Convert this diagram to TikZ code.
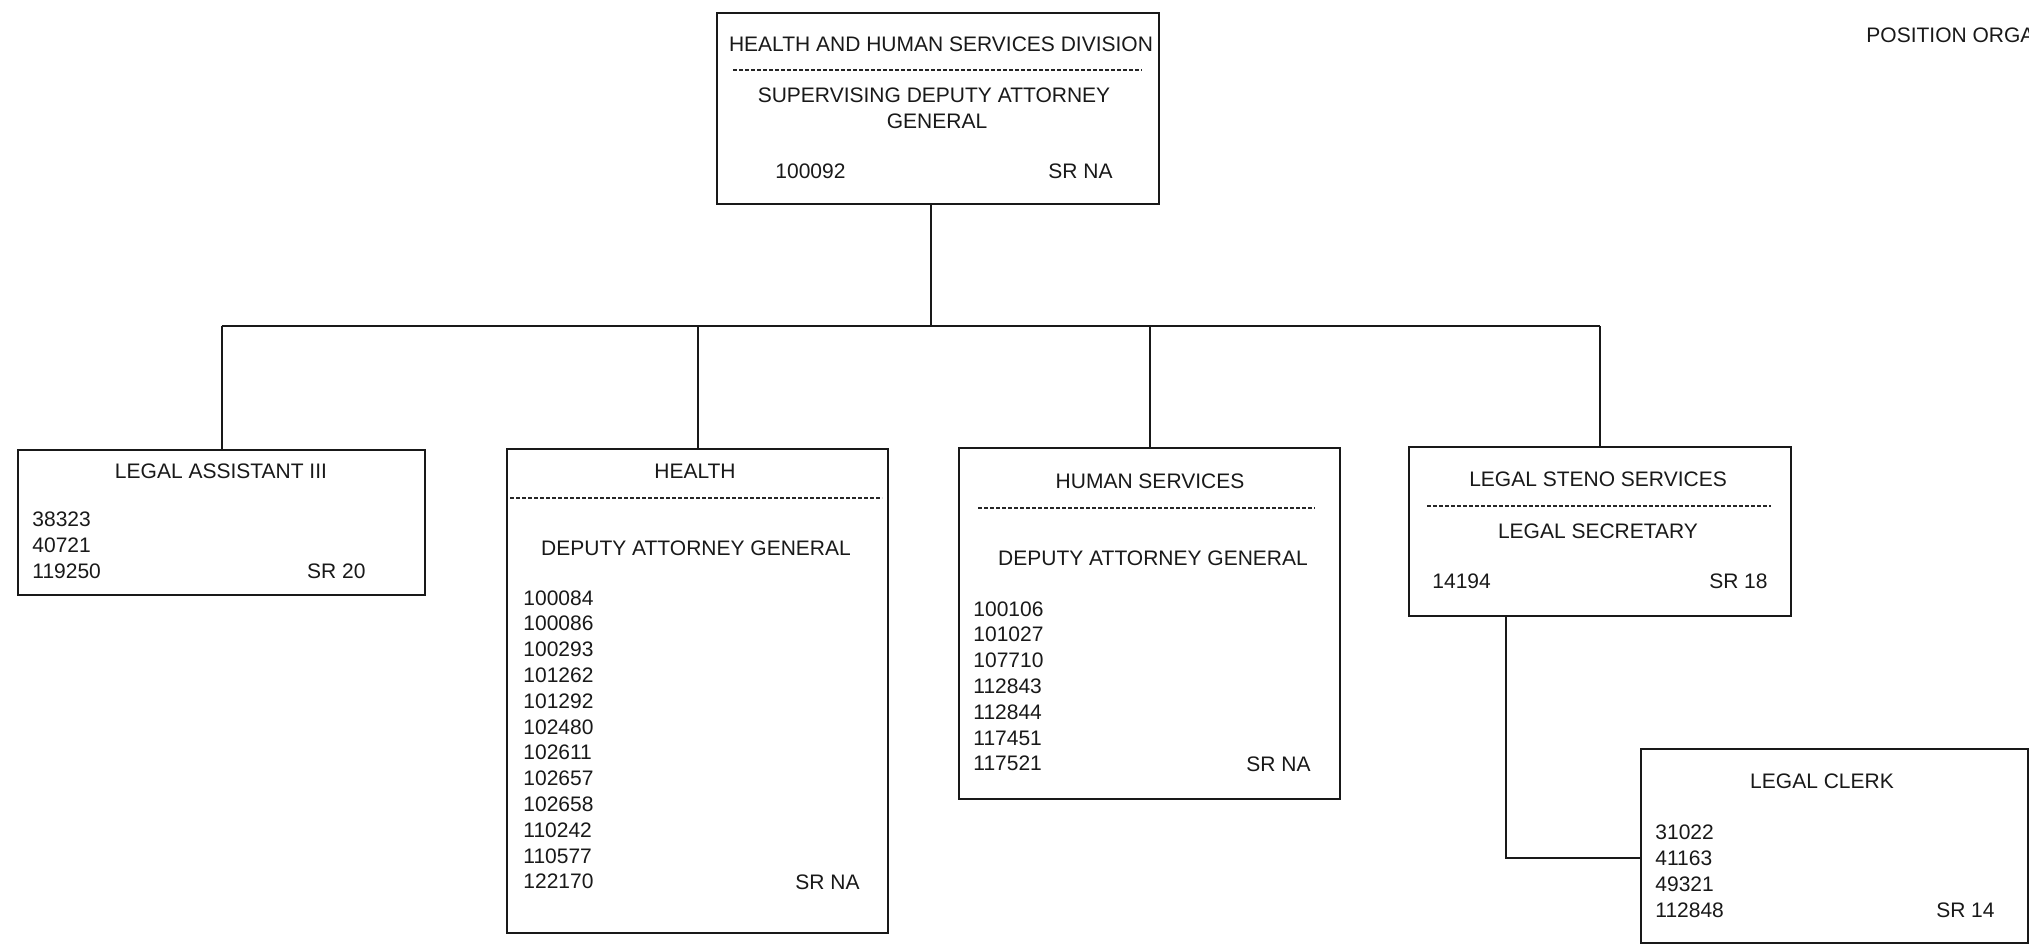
\documentclass[tikz,border=0pt]{standalone}
\usepackage{fontspec}
\setmainfont{Liberation Sans}
\usetikzlibrary{calc}
\begin{document}
\begin{tikzpicture}[x=0.5pt,y=-0.5pt,
  box/.style={draw=black!90,line width=1.1pt,inner sep=0pt,anchor=north west,fill=none},
  conn/.style={draw=black!90,line width=1.1pt},
  sep/.style={draw=black!85,line width=0.7pt,dash pattern=on 2pt off 1pt},
  txt/.style={inner sep=0pt,text=black!90,font=\fontsize{10.5pt}{13pt}\selectfont}]
\clip (0,0) rectangle (2029,947);
\fill[white] (0,0) rectangle (2029,947);

% boxes
\node[box,minimum width=221pt,minimum height=95.5pt] (top) at (716,12) {};
\node[box,minimum width=203.5pt,minimum height=72.5pt] (la) at (17,449) {};
\node[box,minimum width=190.5pt,minimum height=242pt] (health) at (506,448) {};
\node[box,minimum width=190.5pt,minimum height=175.5pt] (hs) at (958,447) {};
\node[box,minimum width=191pt,minimum height=84.5pt] (steno) at (1408,446) {};
\node[box,minimum width=193.5pt,minimum height=97pt] (clerk) at (1640,748) {};

% connectors
\coordinate (bus) at (0,326);
\coordinate (topc) at ($(top.south)+(-7,0)$);
\draw[conn] (topc) -- (topc |- bus);
\draw[conn] (la.north |- bus) -- (steno.north |- bus);
\draw[conn] (la.north |- bus) -- (la.north);
\draw[conn] (health.north |- bus) -- (health.north);
\draw[conn] (hs.north |- bus) -- (hs.north);
\draw[conn] (steno.north |- bus) -- (steno.north);
\coordinate (stc) at ($(steno.south)+(-94,0)$);
\coordinate (clc) at ($(clerk.west)+(0,12)$);
\draw[conn] (stc) |- (clc);

% header text
\node[txt,anchor=base west] (hdr) at (1866,43) {POSITION ORGA};

% top box
\node[txt,anchor=base] (t1) at (941,52) {HEALTH AND HUMAN SERVICES DIVISION};
\draw[sep] (733,70) -- (1142,70);
\node[txt,anchor=base] (t2) at (934,103) {SUPERVISING DEPUTY ATTORNEY};
\node[txt,anchor=base] (t3) at (937,128) {GENERAL};
\node[txt,anchor=base west] (t4) at (775,178) {100092};
\node[txt,anchor=base east] (t5) at (1113,178) {SR NA};

% legal assistant
\node[txt,anchor=base] (la1) at (221,478) {LEGAL ASSISTANT III};
\foreach \n [count=\i from 0] in {38323,40721,119250}
  \node[txt,anchor=base west] (lan\i) at (32,{526+26*\i}) {\n};
\node[txt,anchor=base east] (la2) at (366,578) {SR 20};

% health
\node[txt,anchor=base] (h1) at (695,478) {HEALTH};
\draw[sep] (510,498) -- (882,498);
\node[txt,anchor=base] (h2) at (696,555) {DEPUTY ATTORNEY GENERAL};
\foreach \n [count=\i from 0] in {100084,100086,100293,101262,101292,102480,102611,102657,102658,110242,110577,122170}
  \node[txt,anchor=base west] (hn\i) at (523,{605+25.8*\i}) {\n};
\node[txt,anchor=base east] (h3) at (860,889) {SR NA};

% human services
\node[txt,anchor=base] (s1) at (1150,488) {HUMAN SERVICES};
\draw[sep] (978,508) -- (1315,508);
\node[txt,anchor=base] (s2) at (1153,565) {DEPUTY ATTORNEY GENERAL};
\foreach \n [count=\i from 0] in {100106,101027,107710,112843,112844,117451,117521}
  \node[txt,anchor=base west] (sn\i) at (973,{616+25.8*\i}) {\n};
\node[txt,anchor=base east] (s3) at (1311,771) {SR NA};

% legal steno
\node[txt,anchor=base] (g1) at (1598,486) {LEGAL STENO SERVICES};
\draw[sep] (1427,506) -- (1771,506);
\node[txt,anchor=base] (g2) at (1598,538) {LEGAL SECRETARY};
\node[txt,anchor=base west] (g3) at (1432,588) {14194};
\node[txt,anchor=base east] (g4) at (1768,588) {SR 18};

% legal clerk
\node[txt,anchor=base] (c1) at (1822,788) {LEGAL CLERK};
\foreach \n [count=\i from 0] in {31022,41163,49321,112848}
  \node[txt,anchor=base west] (cn\i) at (1655,{839+26*\i}) {\n};
\node[txt,anchor=base east] (c2) at (1995,917) {SR 14};
\end{tikzpicture}
\end{document}
